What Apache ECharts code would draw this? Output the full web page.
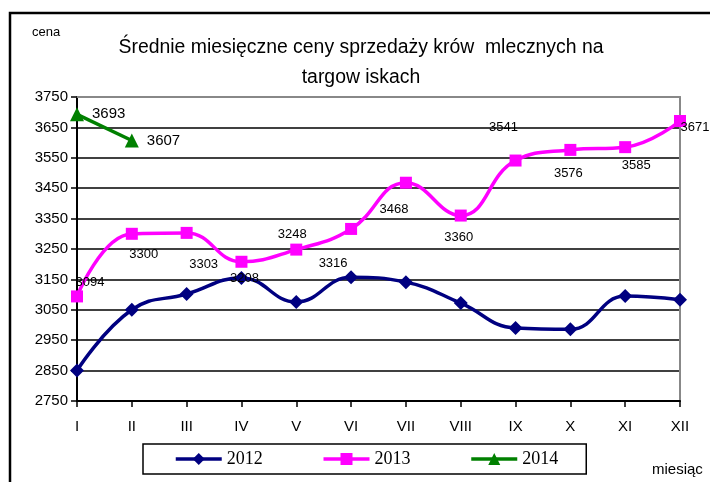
<!DOCTYPE html>
<html>
<head>
<meta charset="utf-8">
<script src="https://cdn.jsdelivr.net/npm/echarts@6/dist/echarts.min.js"></script>
<style>
  html, body { margin: 0; padding: 0; background: #fff; }
  #chart { width: 710px; height: 482px; }
</style>
</head>
<body>
<div id="chart"></div>
<script>
// miesiące
var months = ['I', 'II', 'III', 'IV', 'V', 'VI', 'VII', 'VIII', 'IX', 'X', 'XI', 'XII'];

// ceny w poszczególnych latach
var ceny2012 = [2850, 3050, 3102, 3155, 3076, 3157, 3141, 3072, 2990, 2986, 3095, 3083];
var ceny2013 = [3094, 3300, 3303, 3208, 3248, 3316, 3468, 3360, 3541, 3576, 3585, 3671];
var ceny2014 = [3693, 3607];

// oś y
var yMin = 2750, yMax = 3750, yStep = 100;

var chart = echarts.init(document.getElementById('chart'));

// przesunięcia etykiet 2013 (jak w oryginale)
var offsets2013 = [[13, -14], [12, 21], [17, 32], [3, 17], [-4, -15], [-18, 34],
                   [-12, 27], [-2, 22], [-12, -33], [-2, 24], [11, 18], [15, 6]];

var narrow = "'Liberation Sans Narrow', 'Liberation Sans', Arial, sans-serif";
var sans = "'Liberation Sans', Arial, sans-serif";

var data2013 = ceny2013.map(function (v, i) {
  return {
    value: v,
    label: { show: true, position: 'inside', offset: offsets2013[i] }
  };
});

var option = {
  animation: false,
  title: {
    text: 'Średnie miesięczne ceny sprzedaży krów  mlecznych na\ntargow iskach',
    left: 356,
    textAlign: 'center',
    top: 28,
    textStyle: { fontFamily: sans, fontSize: 19.4, fontWeight: 'normal', color: '#000', lineHeight: 30 }
  },
  legend: {
    left: 143,
    top: 444,
    itemWidth: 46,
    itemHeight: 15,
    itemGap: 59,
    padding: [6, 28, 6, 31],
    borderColor: '#000',
    borderWidth: 1.5,
    itemStyle: { borderWidth: 0 },
    lineStyle: { width: 3.5 },
    textStyle: { fontFamily: "'Liberation Serif', 'Times New Roman', serif", fontSize: 18, color: '#000' },
    data: ['2012', '2013', '2014']
  },
  grid: { left: 77, right: 30, top: 97, bottom: 81 },
  xAxis: [{
    type: 'category',
    data: months,
    boundaryGap: false,
    axisLine: { lineStyle: { color: '#000', width: 2 } },
    axisTick: { show: true, alignWithLabel: true, length: 6, lineStyle: { color: '#000', width: 1.5 } },
    axisLabel: { fontFamily: sans, fontSize: 15, color: '#000', margin: 18 },
    splitLine: { show: false }
  }, {
    type: 'category',
    data: months,
    position: 'top',
    boundaryGap: false,
    axisLine: { lineStyle: { color: '#888', width: 2 } },
    axisTick: { show: false },
    axisLabel: { show: false }
  }],
  yAxis: [{
    type: 'value',
    min: yMin,
    max: yMax,
    interval: yStep,
    axisLine: { show: true, lineStyle: { color: '#000', width: 2 } },
    axisTick: { show: true, length: 6, lineStyle: { color: '#000', width: 1.5 } },
    axisLabel: { fontFamily: sans, fontSize: 15, color: '#000', margin: 9, formatter: function (v) { return String(v); } },
    splitLine: { lineStyle: { color: '#000', width: 1.5 } }
  }, {
    type: 'value',
    min: yMin,
    max: yMax,
    interval: yStep,
    position: 'right',
    axisLine: { show: true, lineStyle: { color: '#888', width: 2 } },
    axisTick: { show: false },
    axisLabel: { show: false },
    splitLine: { show: false }
  }],
  series: [{
    name: '2012',
    type: 'line',
    data: ceny2012,
    smooth: 0.45,
    symbol: 'diamond',
    symbolSize: 14,
    color: '#000080',
    lineStyle: { width: 3.5 }
  }, {
    name: '2013',
    type: 'line',
    data: data2013,
    smooth: 0.45,
    symbol: 'rect',
    symbolSize: 12,
    color: '#ff00ff',
    lineStyle: { width: 3.5 },
    label: { fontFamily: narrow, fontSize: 13, color: '#000' }
  }, {
    name: '2014',
    type: 'line',
    data: ceny2014,
    symbol: 'triangle',
    symbolSize: 14,
    color: '#008000',
    lineStyle: { width: 3.5 },
    label: { show: true, position: 'right', distance: 8, fontFamily: sans, fontSize: 15, color: '#000' }
  }],
  graphic: [{
    type: 'polyline',
    shape: { points: [[10, 482], [10, 13], [710, 13]] },
    style: { stroke: '#000', lineWidth: 2.5, fill: null }
  }, {
    type: 'text',
    left: 32,
    top: 26,
    style: { text: 'cena', fontFamily: sans, fontSize: 13, fill: '#000' }
  }, {
    type: 'text',
    left: 652,
    top: 462,
    style: { text: 'miesiąc', fontFamily: sans, fontSize: 15, fill: '#000' }
  }]
};

chart.setOption(option);
</script>
</body>
</html>
